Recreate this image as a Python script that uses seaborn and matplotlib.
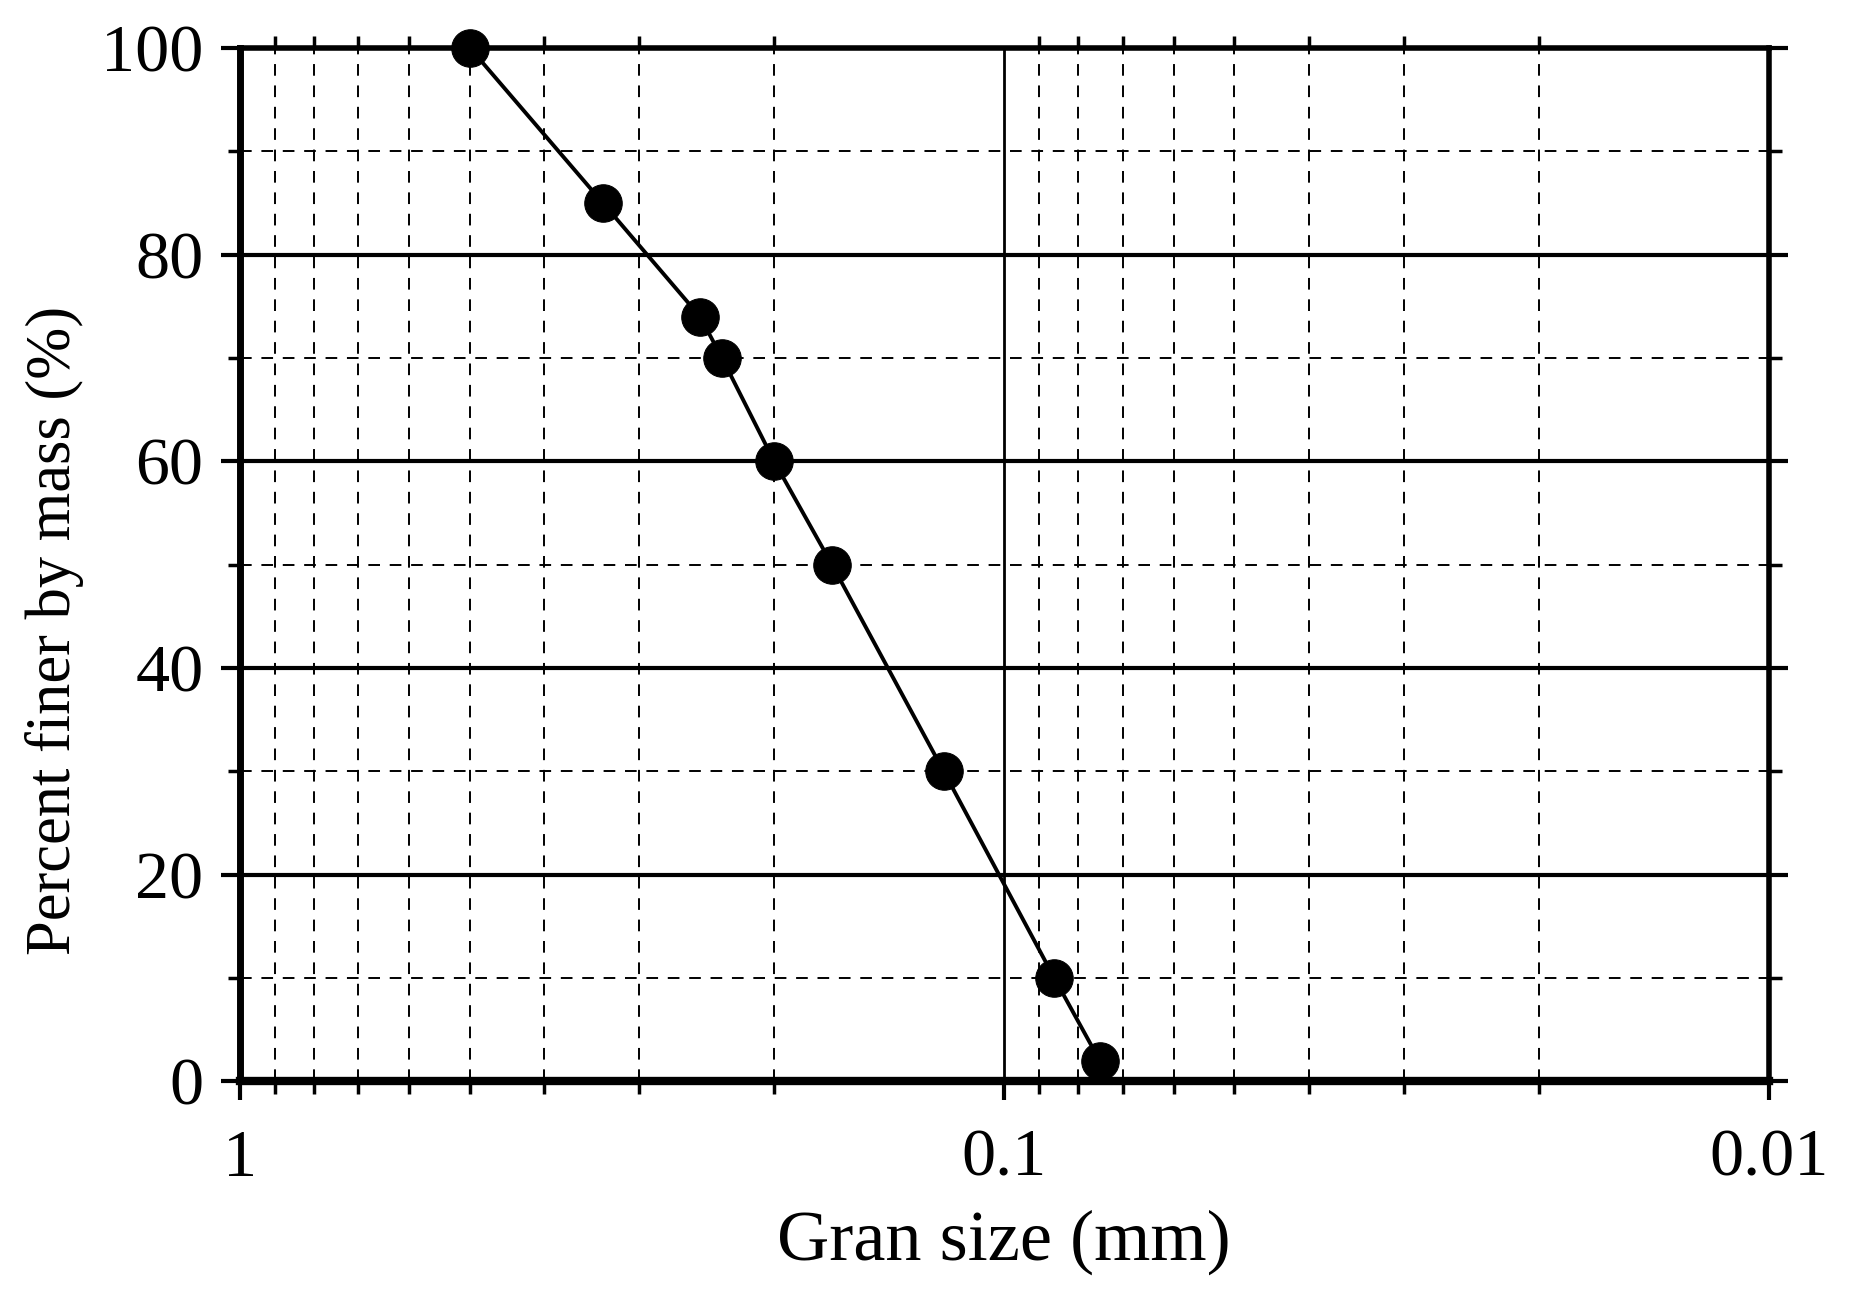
import numpy as np
import pandas as pd
import matplotlib
matplotlib.use("Agg")
import matplotlib.pyplot as plt
import seaborn as sns
from matplotlib.ticker import FixedLocator, NullFormatter

# grain size curve data
grain_size = [0.5, 0.335, 0.25, 0.234, 0.2, 0.168, 0.12, 0.086, 0.075]
percent_finer = [100, 85, 74, 70, 60, 50, 30, 10, 2]
x_ticks = [1, 0.1, 0.01]
x_tick_labels = ["1", "0.1", "0.01"]
y_ticks = [0, 20, 40, 60, 80, 100]
y_minor = [10, 30, 50, 70, 90]

df = pd.DataFrame({"size": grain_size, "finer": percent_finer})

sns.set_style("ticks")
plt.rcParams["font.family"] = ["Liberation Serif", "DejaVu Serif"]
plt.rcParams["text.color"] = "black"
plt.rcParams["axes.labelcolor"] = "black"
plt.rcParams["xtick.color"] = "black"
plt.rcParams["ytick.color"] = "black"

fig, ax = plt.subplots(figsize=(18.58, 12.92), dpi=100)
fig.subplots_adjust(left=0.129, right=0.952, top=0.963, bottom=0.163)

ax.set_xscale("log")
ax.set_xlim(1, 0.01)
ax.set_ylim(0, 100)

# grid lines
minor_x = [m * d for d in (0.1, 0.01) for m in range(2, 10)]
for v in minor_x:
    ax.axvline(v, color="black", lw=1.4, ls=(0, (6, 5)), zorder=1)
ax.axvline(0.1, color="black", lw=2.0, zorder=1)
for v in y_minor:
    ax.axhline(v, color="black", lw=1.4, ls=(0, (6, 5)), zorder=1)
for v in y_ticks[1:-1]:
    ax.axhline(v, color="black", lw=3.0, zorder=1)

sns.lineplot(data=df, x="size", y="finer", sort=False, color="black",
             lw=2.8, marker="o", markersize=27, markeredgecolor="black",
             markerfacecolor="black", ax=ax, zorder=3, clip_on=False)

ax.xaxis.set_major_locator(FixedLocator(x_ticks))
ax.set_xticklabels(x_tick_labels)
ax.xaxis.set_minor_locator(FixedLocator(minor_x))
ax.xaxis.set_minor_formatter(NullFormatter())
ax.yaxis.set_major_locator(FixedLocator(y_ticks))
ax.yaxis.set_minor_locator(FixedLocator(y_minor))

for s in ax.spines.values():
    s.set_linewidth(4)
    s.set_color("black")
ax.spines["bottom"].set_linewidth(6)
ax.spines["left"].set_linewidth(5)

ax.tick_params(axis="both", which="major", direction="out", length=14, width=3,
               labelsize=49, pad=12, top=False, right=False)
ax.tick_params(axis="both", which="minor", direction="out", length=9, width=2.5,
               top=True, right=True)
ax.tick_params(axis="y", which="major", right=True, direction="out", length=14)
ax.tick_params(axis="x", which="major", pad=20)

ax.set_xlabel("Gran size (mm)", fontsize=52, labelpad=14)
ax.set_ylabel("Percent finer by mass (%)", fontsize=45)
ax.yaxis.set_label_coords(-0.102, 0.436)

fig.savefig("out.png", dpi=100, facecolor="white")
